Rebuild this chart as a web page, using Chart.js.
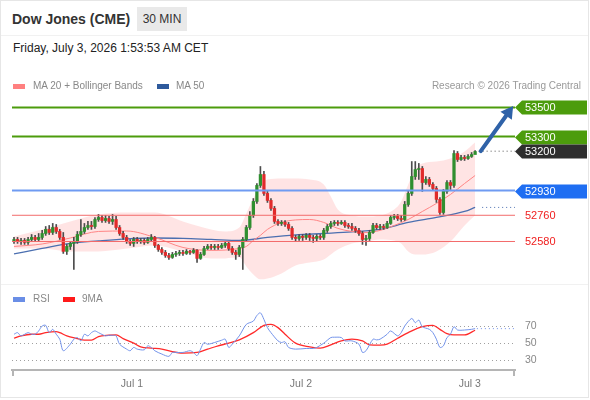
<!DOCTYPE html>
<html>
<head>
<meta charset="utf-8">
<script src="https://cdn.jsdelivr.net/npm/chart.js@4.4.1/dist/chart.umd.min.js"></script>
<style>
  body { margin: 0; width: 590px; height: 400px; position: relative; overflow: hidden; background: #fff; font-family: "Liberation Sans", Arial, sans-serif; }
  .frame { position: absolute; left: 0; top: 0; width: 589px; height: 398px; border: 1px solid #e6e6e6; box-sizing: border-box; }
  .abs { position: absolute; white-space: nowrap; }
  .title { left: 12px; top: 12px; font-size: 14px; line-height: 14px; font-weight: bold; color: #333; }
  .tf { left: 137px; top: 7px; width: 50px; height: 24px; line-height: 24px; text-align: center; font-size: 12px; color: #333; background: #e9e9e9; }
  .date { left: 13px; top: 42px; font-size: 12px; line-height: 12px; color: #222; }
  .sep { position: absolute; left: 1px; width: 587px; height: 1px; background: #f1f1f1; }
  .leg { font-size: 10px; line-height: 10px; color: #888; }
  .sw { position: absolute; width: 12px; height: 5px; }
  #mainBox { position: absolute; left: 0; top: 60px; width: 590px; height: 230px; }
  #rsiBox { position: absolute; left: 0; top: 270px; width: 590px; height: 120px; }
</style>
</head>
<body>
<div class="frame"></div>
<div class="sep" style="top:35px"></div>
<div class="abs title">Dow Jones (CME)</div>
<div class="abs tf">30 MIN</div>
<div class="abs date">Friday, July 3, 2026 1:53:53 AM CET</div>

<div id="mainBox"><canvas id="mainChart" width="590" height="230"></canvas></div>
<div id="rsiBox"><canvas id="rsiChart" width="590" height="120"></canvas></div>
<div class="sep" style="top:284px"></div>

<div class="sw" style="left:13px;top:84px;background:#ff8080"></div>
<div class="abs leg" style="left:33px;top:81px">MA 20 + Bollinger Bands</div>
<div class="sw" style="left:157px;top:84px;background:#2e5a9c"></div>
<div class="abs leg" style="left:176px;top:81px">MA 50</div>
<div class="abs leg" style="right:9px;top:81px;color:#999">Research © 2026 Trading Central</div>

<div class="sw" style="left:13px;top:297px;background:#6a8ee6"></div>
<div class="abs leg" style="left:33px;top:294px">RSI</div>
<div class="sw" style="left:63px;top:297px;background:#ff1a1a"></div>
<div class="abs leg" style="left:82px;top:294px">9MA</div>

<script>
// 30 min candles, index 0 = first candle on screen
const openPrices = [
  52580,52594,52580,52587,52574,52594,52608,52594,52608,52635,
  52663,52642,52676,52649,52608,52512,52546,52567,52580,52628,
  52649,52676,52690,52683,52731,52745,52724,52738,52718,52731,
  52676,52635,52608,52580,52567,52594,52580,52587,52574,52594,
  52608,52553,52525,52505,52484,52471,52491,52498,52505,52498,
  52512,52505,52519,52464,52491,52532,52546,52539,52546,52539,
  52553,52567,52532,52505,52491,52539,52594,52676,52759,52855,
  52965,53040,52910,52862,52807,52718,52704,52711,52697,52670,
  52608,52601,52615,52608,52622,52608,52601,52615,52608,52656,
  52683,52704,52711,52704,52711,52690,52683,52670,52656,52635,
  52594,52601,52642,52690,52676,52683,52676,52704,52745,52752,
  52738,52731,52834,52910,53026,53074,53081,52985,53006,52972,
  52944,52869,52779,52924,52985,52965,53184,53143,53157,53150,
  53164,53177];
const highPrices = [
  52608,52608,52601,52601,52608,52628,52622,52635,52656,52683,
  52690,52704,52697,52663,52642,52560,52580,52608,52649,52731,
  52704,52718,52718,52745,52766,52759,52759,52752,52766,52752,
  52690,52649,52622,52594,52608,52608,52601,52601,52608,52628,
  52615,52560,52539,52519,52498,52505,52512,52519,52519,52525,
  52519,52532,52525,52505,52546,52560,52560,52560,52560,52567,
  52580,52574,52546,52519,52553,52608,52690,52786,52875,52978,
  53095,53061,52924,52875,52821,52731,52724,52724,52711,52683,
  52622,52628,52628,52635,52635,52622,52628,52628,52670,52697,
  52718,52724,52724,52724,52724,52704,52704,52683,52670,52649,
  52622,52656,52704,52704,52697,52697,52718,52759,52766,52766,
  52759,52855,52924,53129,53129,53116,53095,53026,53020,52985,
  52958,52882,52937,52999,52999,53205,53198,53171,53171,53177,
  53191,53205];
const lowPrices = [
  52567,52567,52560,52560,52560,52580,52580,52580,52594,52622,
  52628,52628,52635,52594,52498,52491,52525,52388,52567,52615,
  52635,52663,52663,52670,52718,52711,52711,52704,52697,52663,
  52622,52594,52567,52553,52546,52567,52567,52560,52567,52580,
  52539,52512,52491,52471,52457,52464,52477,52484,52484,52491,
  52491,52498,52436,52457,52484,52525,52525,52525,52525,52532,
  52539,52519,52491,52457,52477,52388,52580,52663,52745,52841,
  52951,52896,52848,52793,52704,52690,52690,52683,52656,52594,
  52580,52587,52587,52594,52587,52574,52580,52594,52594,52642,
  52670,52690,52690,52697,52676,52670,52656,52642,52622,52560,
  52553,52587,52635,52663,52663,52663,52670,52697,52731,52724,
  52718,52724,52821,52896,53006,53006,52924,52972,52958,52930,
  52848,52766,52766,52910,52937,52951,53129,53136,53136,53143,
  53157,53184];
const closePrices = [
  52594,52580,52587,52574,52594,52608,52594,52608,52635,52663,
  52642,52676,52649,52608,52512,52546,52567,52580,52628,52649,
  52676,52690,52683,52731,52745,52724,52738,52718,52731,52676,
  52635,52608,52580,52567,52594,52580,52587,52574,52594,52608,
  52553,52525,52505,52484,52471,52491,52498,52505,52498,52512,
  52505,52519,52464,52491,52532,52546,52539,52546,52539,52553,
  52567,52532,52505,52491,52539,52594,52676,52759,52855,52965,
  53040,52910,52862,52807,52718,52704,52711,52697,52670,52608,
  52601,52615,52608,52622,52608,52601,52615,52608,52656,52683,
  52704,52711,52704,52711,52690,52683,52670,52656,52635,52594,
  52601,52642,52690,52676,52683,52676,52704,52745,52752,52738,
  52731,52834,52910,53026,53074,53081,52985,53006,52972,52944,
  52869,52779,52924,52985,52965,53184,53143,53157,53150,53164,
  53177,53198];

const ma50Idx = [0,8,16,24,32,40,48,56,64,72,80,88,96,104,112,120,128,131];
const ma50Val = [52495,52532,52567,52584,52598,52604,52601,52594,52587,52608,52625,52635,52646,52663,52711,52745,52786,52814];
const ma20Idx = [0,8,16,24,32,40,48,56,64,66,68,70,72,76,80,84,88,92,96,100,104,108,112,116,120,124,128,131];
const ma20Val = [52546,52563,52604,52649,52652,52608,52539,52519,52532,52546,52587,52622,52663,52711,52728,52731,52711,52670,52649,52642,52656,52690,52731,52786,52841,52903,52978,53033];
const bandIdx = [0,8,16,24,32,40,48,56,60,64,66,68,70,72,76,80,84,88,90,92,96,100,104,108,110,112,114,116,120,124,128,131];
const bandUpper = [52615,52663,52718,52766,52779,52779,52718,52663,52649,52676,52773,52875,52965,53006,53013,53013,53006,52972,52889,52800,52759,52752,52759,52800,52855,52972,53074,53116,53129,53150,53198,53260];
const bandLower = [52532,52532,52512,52512,52532,52553,52512,52464,52464,52471,52409,52354,52320,52326,52361,52416,52436,52457,52491,52525,52567,52580,52594,52587,52567,52512,52491,52491,52512,52580,52690,52759];

const rsiIdx = [0,1,2,4,5,6,7,8,9,10,11,12,13,14,16,17,18,19,20,21,22,23,24,26,27,28,29,30,32,33,34,35,37,38,39,40,42,44,45,46,48,50,51,52,53,54,55,57,59,60,61,62,64,66,68,69,70,71,72,73,75,76,77,78,80,83,85,86,88,90,91,93,94,96,98,99,100,102,103,104,106,107,109,110,111,113,114,115,116,118,119,120,121,122,123,124,125,126,128,130,131];
const rsiVal = [60.3,62.2,58.4,62.2,60.3,60.3,64.2,70.0,70.8,62.2,66.1,60.3,54.5,40.9,48.6,54.5,56.4,52.5,60.3,58.4,62.2,64.2,62.2,58.4,59.1,59.1,58.4,48.6,42.8,40.9,44.8,42.8,42.0,46.7,44.8,40.9,37.0,34.3,38.9,38.9,38.9,40.9,38.9,35.1,42.8,50.6,48.6,50.6,53.3,54.5,44.8,48.6,58.4,71.9,75.8,82.4,85.5,77.8,68.1,62.2,52.5,50.6,51.4,44.8,42.8,43.6,43.6,44.8,49.8,56.4,56.8,56.4,52.5,52.5,48.6,38.9,40.9,54.5,53.7,54.5,60.3,64.2,58.4,62.2,70.0,78.9,73.9,77.0,69.2,66.1,62.2,54.5,44.8,46.7,56.4,60.3,69.2,65.3,65.3,66.1,66.9];
const rsiMaIdx = [0,2,5,7,9,12,13,15,18,20,22,24,27,29,31,34,36,39,42,45,48,52,55,58,61,64,68,71,73,75,77,80,84,87,90,93,96,99,101,104,106,109,112,116,119,121,123,125,128,131];
const rsiMaVal = [55.6,58.4,60.3,60.3,62.2,63.4,62.2,58.4,55.2,53.3,53.3,57.6,59.1,59.5,55.2,49.8,45.5,44.0,42.8,39.7,38.2,38.9,42.8,46.7,49.8,53.7,62.2,70.8,71.9,68.1,60.3,49.8,45.5,44.0,47.9,52.5,54.5,52.5,47.9,47.5,48.6,55.6,62.2,69.2,70.8,66.1,61.1,59.5,59.5,65.0];

const resistanceLevels = [53500, 53300];
const lastPrice = 53200;
const pivotLevel = 52930;
const supportLevels = [52760, 52580];
const targetPrice = 53500;

const xTickPos = [33.5, 81.5, 129.5];
const xTickLabels = ['Jul 1', 'Jul 2', 'Jul 3'];
const rsiTicks = [30, 50, 70];

Chart.defaults.font.family = '"Liberation Sans", Arial, sans-serif';

const X_MIN = -0.57, X_MAX = 142.33;
const LAST = closePrices.length - 1;
const UP = '#2f8f2f', DOWN = '#e12a2a';

const pts = (ix, vals) => ix.map((x, k) => ({ x: x, y: vals[k] }));
const flat = (y, from) => [{ x: from, y: y }, { x: X_MAX, y: y }];
const lineDs = (data, color, width, extra) => Object.assign({
  type: 'line', data: data, borderColor: color, borderWidth: width,
  pointRadius: 0, fill: false, cubicInterpolationMode: 'monotone'
}, extra || {});

const candleIdx = closePrices.map((_, i) => i);

// right side price tags + forecast arrow
const tagPlugin = {
  id: 'tags',
  afterDatasetsDraw(chart) {
    const { ctx, chartArea, scales } = chart;
    const y = v => scales.y.getPixelForValue(v);
    const x = v => scales.x.getPixelForValue(v);
    const r = chartArea.right;
    ctx.save();
    // arrow
    const x0 = x(LAST + 1.6), y0 = y(lastPrice);
    const x1 = x(141.8), y1 = y(targetPrice + 10);
    const ang = Math.atan2(y1 - y0, x1 - x0);
    const hl = 12, hw = 7;
    const bx = x1 - hl * Math.cos(ang), by = y1 - hl * Math.sin(ang);
    ctx.strokeStyle = '#2f62a8'; ctx.fillStyle = '#2f62a8';
    ctx.lineWidth = 4; ctx.lineCap = 'round';
    ctx.beginPath(); ctx.moveTo(x0, y0); ctx.lineTo(bx, by); ctx.stroke();
    ctx.beginPath();
    ctx.moveTo(x1, y1);
    ctx.lineTo(bx + hw * Math.sin(ang), by - hw * Math.cos(ang));
    ctx.lineTo(bx - hw * Math.sin(ang), by + hw * Math.cos(ang));
    ctx.closePath(); ctx.fill();

    ctx.font = '11px "Liberation Sans", Arial, sans-serif';
    ctx.textBaseline = 'middle';
    const tag = (v, fill) => {
      const py = Math.round(y(v)) + 0.5;
      ctx.beginPath();
      ctx.moveTo(r, py); ctx.lineTo(r + 7, py - 7); ctx.lineTo(587, py - 7);
      ctx.lineTo(587, py + 7); ctx.lineTo(r + 7, py + 7); ctx.closePath();
      ctx.fillStyle = fill; ctx.fill();
      ctx.fillStyle = '#fff'; ctx.fillText(String(v), r + 10, py + 0.5);
    };
    resistanceLevels.forEach(v => tag(v, '#4c9c0c'));
    tag(lastPrice, '#2e2e2e');
    tag(pivotLevel, '#1f6ef2');
    ctx.fillStyle = '#f02020';
    supportLevels.forEach(v => ctx.fillText(String(v), r + 10, Math.round(y(v)) + 1));
    ctx.restore();
  }
};

new Chart(document.getElementById('mainChart'), {
  type: 'bar',
  data: {
    datasets: [
      ...resistanceLevels.map(v => lineDs(flat(v, X_MIN), '#4c9c0c', 2, { order: 0 })),
      lineDs(flat(pivotLevel, X_MIN), '#6f9bf2', 2, { order: 0 }),
      ...supportLevels.map(v => lineDs(flat(v, X_MIN), '#f36b6b', 1, { order: 0 })),
      lineDs(flat(lastPrice, LAST + 1), '#555', 1, { order: 0, borderDash: [1, 3] }),
      lineDs(flat(ma50Val[ma50Val.length - 1], LAST + 2), '#4b6fb0', 1, { order: 0, borderDash: [1, 3] }),
      {
        type: 'bar', order: 1, grouped: false, barThickness: 2.6,
        data: candleIdx.map(i => ({ x: i, y: [openPrices[i], closePrices[i]] })),
        backgroundColor: candleIdx.map(i => closePrices[i] >= openPrices[i] ? UP : DOWN)
      },
      {
        type: 'bar', order: 2, grouped: false, barThickness: 1,
        data: candleIdx.map(i => ({ x: i, y: [lowPrices[i], highPrices[i]] })),
        backgroundColor: '#4d4d4d'
      },
      lineDs(pts(ma20Idx, ma20Val), '#ff8585', 1, { order: 3 }),
      lineDs(pts(ma50Idx, ma50Val), '#4b6fb0', 1.3, { order: 3 }),
      lineDs(pts(bandIdx, bandUpper), 'rgba(0,0,0,0)', 0, { order: 9, fill: '+1', backgroundColor: 'rgba(255,105,105,0.18)' }),
      lineDs(pts(bandIdx, bandLower), 'rgba(0,0,0,0)', 0, { order: 9 })
    ]
  },
  options: {
    responsive: false,
    animation: false,
    layout: { padding: { left: 12, right: 75, top: 0, bottom: 0 } },
    plugins: { legend: { display: false }, tooltip: { enabled: false } },
    scales: {
      x: { type: 'linear', min: X_MIN, max: X_MAX, offset: false, display: false },
      y: { type: 'linear', min: 52247, max: 53826, display: false }
    }
  },
  plugins: [tagPlugin]
});

// bracket ends of the time axis
const axisEnds = {
  id: 'axisEnds',
  afterDraw(chart) {
    const { ctx, chartArea } = chart;
    ctx.save();
    ctx.strokeStyle = '#b5b5b5'; ctx.lineWidth = 2;
    ctx.beginPath();
    ctx.moveTo(chartArea.left + 1, chartArea.bottom); ctx.lineTo(chartArea.left + 1, chartArea.bottom + 6);
    ctx.moveTo(chartArea.right - 1, chartArea.bottom); ctx.lineTo(chartArea.right - 1, chartArea.bottom + 6);
    ctx.stroke();
    ctx.restore();
  }
};

new Chart(document.getElementById('rsiChart'), {
  type: 'line',
  data: {
    datasets: [
      lineDs(pts(rsiIdx, rsiVal), '#7393ea', 1, { tension: 0.3, cubicInterpolationMode: 'default' }),
      lineDs(pts(rsiMaIdx, rsiMaVal), '#ff2a2a', 1.3),
      lineDs(flat(rsiVal[rsiVal.length - 1], LAST + 0.5), '#7393ea', 1, { borderDash: [1, 3] })
    ]
  },
  options: {
    responsive: false,
    animation: false,
    layout: { padding: { left: 12, right: 0, top: 20, bottom: 0 } },
    plugins: { legend: { display: false }, tooltip: { enabled: false } },
    scales: {
      x: {
        type: 'linear', min: X_MIN, max: X_MAX, offset: false,
        grid: { display: false, drawTicks: false },
        border: { display: true, color: '#b5b5b5', width: 2 },
        afterBuildTicks: s => { s.ticks = xTickPos.map(v => ({ value: v })); },
        afterFit: s => { s.height = 20; },
        ticks: {
          autoSkip: false, maxRotation: 0, padding: 8, color: '#777',
          font: { size: 10.5 },
          callback: (v, i) => xTickLabels[i]
        }
      },
      y: {
        type: 'linear', position: 'right', min: 18.24, max: 112.36,
        grid: { color: '#a0a0a0', drawTicks: false, tickLength: 0 },
        border: { display: false, dash: [1, 3] },
        afterBuildTicks: s => { s.ticks = rsiTicks.map(v => ({ value: v })); },
        afterFit: s => { s.width = 75; },
        ticks: { padding: 10, color: '#888', font: { size: 10.5 } }
      }
    }
  },
  plugins: [axisEnds]
});
</script>
</body>
</html>
